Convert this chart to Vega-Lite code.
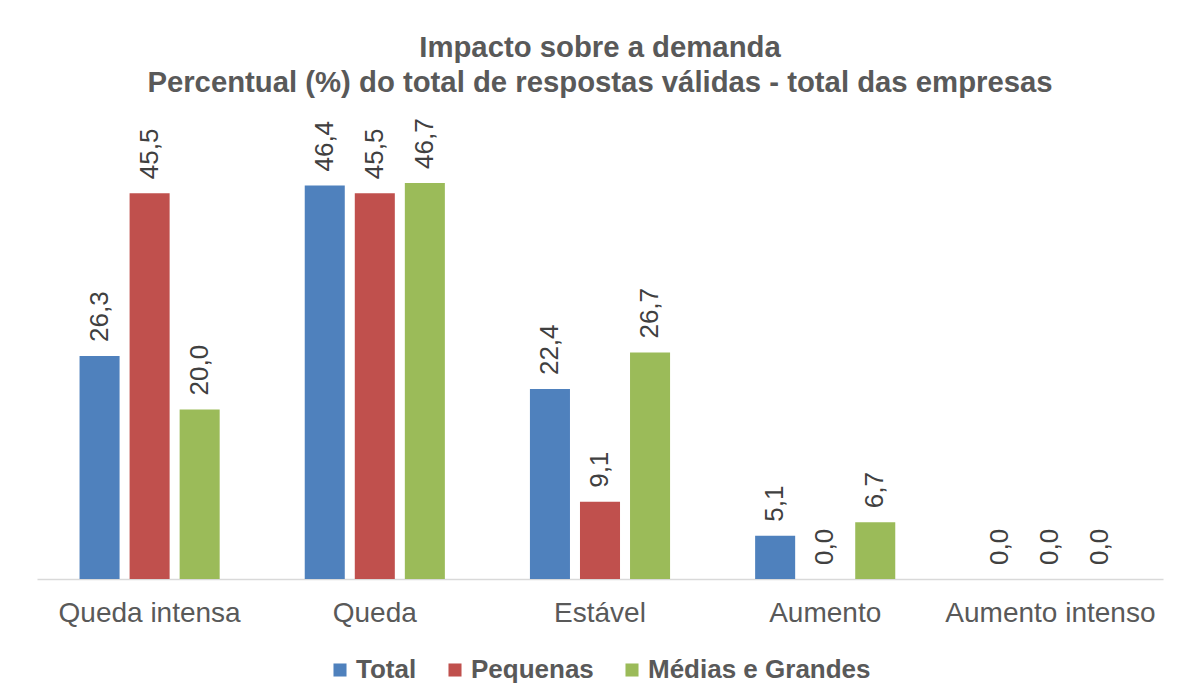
{
  "$schema": "https://vega.github.io/schema/vega-lite/v6.json",
  "width": 1126,
  "height": 424,
  "autosize": {"type": "none"},
  "padding": {"left": 37, "top": 155, "right": 14, "bottom": 120},
  "background": "white",
  "title": {
    "text": ["Impacto sobre a demanda", "Percentual (%) do total de respostas válidas - total das empresas"],
    "fontSize": 29.3,
    "font": "Liberation Sans",
    "fontWeight": "bold",
    "color": "#595959",
    "anchor": "middle",
    "lineHeight": 35,
    "offset": 20,
    "limit": 0
  },
  "data": {
    "values": [
      {"categoria": "Queda intensa", "porte": "Total", "valor": 26.3},
      {"categoria": "Queda intensa", "porte": "Pequenas", "valor": 45.5},
      {"categoria": "Queda intensa", "porte": "Médias e Grandes", "valor": 20.0},
      {"categoria": "Queda", "porte": "Total", "valor": 46.4},
      {"categoria": "Queda", "porte": "Pequenas", "valor": 45.5},
      {"categoria": "Queda", "porte": "Médias e Grandes", "valor": 46.7},
      {"categoria": "Estável", "porte": "Total", "valor": 22.4},
      {"categoria": "Estável", "porte": "Pequenas", "valor": 9.1},
      {"categoria": "Estável", "porte": "Médias e Grandes", "valor": 26.7},
      {"categoria": "Aumento", "porte": "Total", "valor": 5.1},
      {"categoria": "Aumento", "porte": "Pequenas", "valor": 0.0},
      {"categoria": "Aumento", "porte": "Médias e Grandes", "valor": 6.7},
      {"categoria": "Aumento intenso", "porte": "Total", "valor": 0.0},
      {"categoria": "Aumento intenso", "porte": "Pequenas", "valor": 0.0},
      {"categoria": "Aumento intenso", "porte": "Médias e Grandes", "valor": 0.0}
    ]
  },
  "encoding": {
    "x": {
      "field": "categoria",
      "type": "nominal",
      "sort": ["Queda intensa", "Queda", "Estável", "Aumento", "Aumento intenso"],
      "scale": {"paddingInner": 0.3333, "paddingOuter": 0.1667},
      "axis": {
        "title": null,
        "labelAngle": 0,
        "labelFontSize": 28,
        "labelFont": "Liberation Sans",
        "labelColor": "#595959",
        "labelPadding": 20,
        "labelLimit": 0,
        "ticks": false,
        "domainColor": "#D9D9D9",
        "domainWidth": 1.5,
        "grid": false
      }
    },
    "xOffset": {
      "field": "porte",
      "type": "nominal",
      "sort": ["Total", "Pequenas", "Médias e Grandes"],
      "scale": {"paddingInner": 0.2, "paddingOuter": 0.1}
    },
    "y": {
      "field": "valor",
      "type": "quantitative",
      "scale": {"domain": [0, 50]},
      "axis": null
    }
  },
  "layer": [
    {
      "mark": {"type": "bar"},
      "encoding": {
        "color": {
          "field": "porte",
          "type": "nominal",
          "sort": ["Total", "Pequenas", "Médias e Grandes"],
          "scale": {
            "domain": ["Total", "Pequenas", "Médias e Grandes"],
            "range": ["#4F81BD", "#C0504D", "#9BBB59"]
          },
          "legend": {
            "orient": "none",
            "legendX": 290,
            "legendY": 502,
            "direction": "horizontal",
            "title": null,
            "symbolType": "square",
            "symbolSize": 170,
            "symbolStrokeWidth": 0,
            "labelFontSize": 26,
            "labelFontWeight": "bold",
            "labelFont": "Liberation Sans",
            "labelColor": "#595959",
            "labelOffset": 3,
            "labelLimit": 0,
            "columnPadding": 25
          }
        }
      }
    },
    {
      "mark": {
        "type": "text",
        "angle": -90,
        "align": "left",
        "baseline": "middle",
        "dx": 14,
        "fontSize": 26,
        "font": "Liberation Sans",
        "color": "#404040"
      },
      "encoding": {
        "text": {"field": "valor", "type": "quantitative", "format": ".1f"}
      }
    }
  ],
  "config": {
    "view": {"stroke": null},
    "locale": {
      "number": {"decimal": ",", "thousands": ".", "grouping": [3], "currency": ["R$", ""]}
    }
  }
}
